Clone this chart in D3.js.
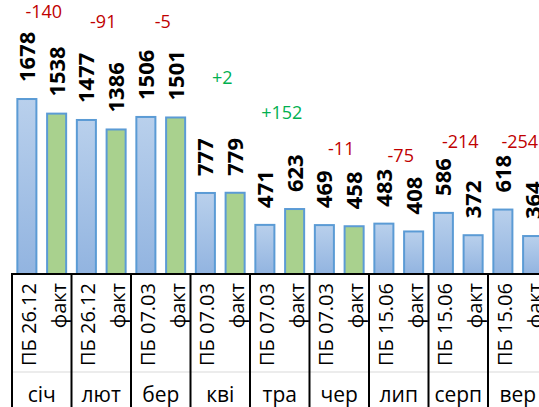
<!DOCTYPE html>
<html>
<head>
<meta charset="utf-8">
<script src="https://cdn.jsdelivr.net/npm/d3@7"></script>
<style>
  body { margin: 0; background: #fff; }
  svg { display: block; font-family: 'Open Sans', sans-serif; }
</style>
</head>
<body>
<div id="chart"></div>
<script>
'use strict';

// months and the two bars in each month
var months = ['січ', 'лют', 'бер', 'кві', 'тра', 'чер', 'лип', 'серп', 'вер'];
var planLabels = ['ПБ 26.12', 'ПБ 26.12', 'ПБ 07.03', 'ПБ 07.03', 'ПБ 07.03',
                  'ПБ 07.03', 'ПБ 15.06', 'ПБ 15.06', 'ПБ 15.06'];
var factLabel = 'факт';
var planValues = [1678, 1477, 1506, 777, 471, 469, 483, 586, 618];
var factValues = [1538, 1386, 1501, 779, 623, 458, 408, 372, 364];
// second bar is green only once the month is actually closed
var factActual = [true, true, true, true, true, true, false, false, false];
// height (in chart units) of the invisible helper series carrying the difference labels
var diffLevels = [2520, 2420, 2420, 1885, 1545, 1200, 1135, 1275, 1275];

var width = 539, height = 407;
var margin = {left: 12, bottom: 133};
var axisY = height - margin.bottom;

var svg = d3.select('#chart').append('svg')
    .attr('width', width)
    .attr('height', height);

var defs = svg.append('defs');
var grad = defs.append('linearGradient')
    .attr('id', 'blueFill')
    .attr('x1', 0).attr('y1', 0).attr('x2', 0).attr('y2', 1);
grad.append('stop').attr('offset', '0%').attr('stop-color', '#b9d0ec');
grad.append('stop').attr('offset', '100%').attr('stop-color', '#92b4e0');

var x0 = d3.scaleBand()
    .domain(months)
    .range([margin.left, margin.left + months.length * 59.5]);

var x1 = d3.scaleBand()
    .domain(['plan', 'fact'])
    .range([0, x0.bandwidth()])
    .paddingInner(0.36)
    .paddingOuter(0.18);

var y = d3.scaleLinear()
    .domain([0, 2500])
    .range([axisY, axisY - 260.7]);

var rows = months.map(function (m, i) {
    return {
        month: m,
        diff: factValues[i] - planValues[i],
        level: diffLevels[i],
        bars: [
            {key: 'plan', label: planLabels[i], value: planValues[i], green: false},
            {key: 'fact', label: factLabel, value: factValues[i], green: factActual[i]}
        ]
    };
});

var groups = svg.selectAll('g.month')
    .data(rows)
    .enter().append('g')
    .attr('class', 'month')
    .attr('transform', function (d) { return 'translate(' + x0(d.month) + ',0)'; });

// bars
groups.selectAll('rect')
    .data(function (d) { return d.bars; })
    .enter().append('rect')
    .attr('x', function (d) { return x1(d.key); })
    .attr('y', function (d) { return y(d.value); })
    .attr('width', x1.bandwidth())
    .attr('height', function (d) { return axisY - y(d.value); })
    .attr('fill', function (d) { return d.green ? '#a9d18e' : 'url(#blueFill)'; })
    .attr('stroke', '#5b9bd5')
    .attr('stroke-width', 2);

// value labels, rotated
groups.selectAll('text.val')
    .data(function (d) { return d.bars; })
    .enter().append('text')
    .attr('class', 'val')
    .attr('transform', function (d) {
        return 'translate(' + (x1(d.key) + x1.bandwidth() / 2) + ',' + (y(d.value) - 17) + ') rotate(-90)';
    })
    .attr('dy', '0.36em')
    .attr('font-size', 22)
    .attr('font-weight', 'bold')
    .attr('fill', '#000')
    .text(function (d) { return d.value; });

// difference labels
groups.append('text')
    .attr('class', 'diff')
    .attr('x', x0.bandwidth() / 2 + 2)
    .attr('y', function (d) { return y(d.level); })
    .attr('dy', '0.36em')
    .attr('text-anchor', 'middle')
    .attr('font-size', 18)
    .attr('fill', function (d) { return d.diff < 0 ? '#c00000' : '#00b050'; })
    .text(function (d) { return (d.diff > 0 ? '+' : '') + d.diff; });

// category labels under each bar
groups.selectAll('text.cat')
    .data(function (d) { return d.bars; })
    .enter().append('text')
    .attr('class', 'cat')
    .attr('transform', function (d) {
        return 'translate(' + (x1(d.key) + x1.bandwidth() / 2 + 9) + ',' + (axisY + 9) + ') rotate(-90)';
    })
    .attr('text-anchor', 'end')
    .attr('font-size', 20)
    .attr('fill', '#000')
    .text(function (d) { return d.label; });

// month labels
groups.append('text')
    .attr('x', x0.bandwidth() / 2)
    .attr('y', 402)
    .attr('text-anchor', 'middle')
    .attr('font-size', 21)
    .attr('fill', '#000')
    .text(function (d) { return d.month; });

// faint separator between the two label rows
svg.append('line')
    .attr('x1', margin.left).attr('x2', width)
    .attr('y1', 372).attr('y2', 372)
    .attr('stroke', '#d9d9d9').attr('stroke-width', 1);

// axis line and month dividers
svg.append('line')
    .attr('x1', margin.left).attr('x2', width)
    .attr('y1', axisY).attr('y2', axisY)
    .attr('stroke', '#000').attr('stroke-width', 2);

svg.selectAll('line.div')
    .data(months.concat(['end']))
    .enter().append('line')
    .attr('class', 'div')
    .attr('x1', function (d, i) { return x0.range()[0] + i * x0.step(); })
    .attr('x2', function (d, i) { return x0.range()[0] + i * x0.step(); })
    .attr('y1', axisY - 1)
    .attr('y2', height)
    .attr('stroke', '#000')
    .attr('stroke-width', 2);
</script>
</body>
</html>
